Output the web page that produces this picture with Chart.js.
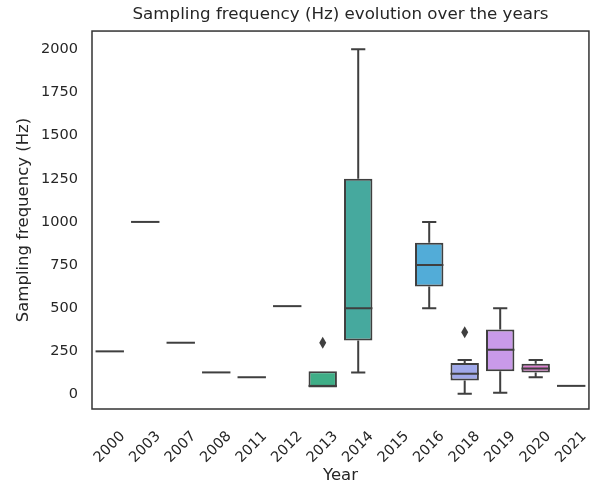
<!DOCTYPE html>
<html>
<head>
<meta charset="utf-8">
<script src="https://cdn.jsdelivr.net/npm/chart.js@4"></script>
<style>
  html, body { margin: 0; padding: 0; background: #fff; }
  #wrap { width: 603px; height: 487px; }
</style>
</head>
<body>
<div id="wrap"><canvas id="chart" width="603" height="487"></canvas></div>
<script>
const years = ['2000', '2003', '2007', '2008', '2011', '2012', '2013', '2014', '2015', '2016', '2018', '2019', '2020', '2021'];
const whiskerLow = [250, 1000, 300, 128, 100, 512, 40, 128, null, 500, 5, 10, 100, 50];
const q1 = [250, 1000, 300, 128, 100, 512, 40, 313, null, 626, 81, 135, 128, 50];
const medians = [250, 1000, 300, 128, 100, 512, 50, 500, null, 750, 120, 260, 150, 50];
const q3 = [250, 1000, 300, 128, 100, 512, 135, 1250, null, 879, 182, 377, 178, 50];
const whiskerHigh = [250, 1000, 300, 128, 100, 512, 135, 2000, null, 1000, 200, 500, 200, 50];
const outliers = [[], [], [], [], [], [], [300], [], [], [], [360], [], [], []];
const yTicks = [0, 250, 500, 750, 1000, 1250, 1500, 1750, 2000];

const boxColors = ['#e0737d', '#db7a5c', '#c78a3e', '#b3933d', '#a39a3d', '#8ea13d',
  '#3fae87', '#46a99e', '#48aab5', '#52acd8', '#a0a9ea', '#c99ae9', '#dd7fd0', '#e079a8'];
const lineColor = '#3f3f3f';
const textColor = '#262626';
const font = 'DejaVu Sans';

// whiskers, medians, caps and outliers on top of the floating bars
const boxPlugin = {
  id: 'boxParts',
  afterDatasetsDraw(chart) {
    const ctx = chart.ctx;
    const yScale = chart.scales.y;
    const bars = chart.getDatasetMeta(0).data;
    ctx.save();
    ctx.strokeStyle = lineColor;
    ctx.fillStyle = lineColor;
    ctx.lineWidth = 2;
    bars.forEach((bar, i) => {
      if (medians[i] == null) return;
      const half = bar.width / 2;
      const cap = bar.width / 4;
      const x = bar.x;
      const yMed = yScale.getPixelForValue(medians[i]);
      const yQ1 = yScale.getPixelForValue(q1[i]);
      const yQ3 = yScale.getPixelForValue(q3[i]);
      const yLo = yScale.getPixelForValue(whiskerLow[i]);
      const yHi = yScale.getPixelForValue(whiskerHigh[i]);
      ctx.beginPath();
      ctx.moveTo(x - half, yMed);
      ctx.lineTo(x + half, yMed);
      if (whiskerHigh[i] > q3[i]) {
        ctx.moveTo(x, yQ3);
        ctx.lineTo(x, yHi);
        ctx.moveTo(x - cap, yHi);
        ctx.lineTo(x + cap, yHi);
      }
      if (whiskerLow[i] < q1[i]) {
        ctx.moveTo(x, yQ1);
        ctx.lineTo(x, yLo);
        ctx.moveTo(x - cap, yLo);
        ctx.lineTo(x + cap, yLo);
      }
      ctx.stroke();
      outliers[i].forEach(v => {
        const yo = yScale.getPixelForValue(v);
        ctx.beginPath();
        ctx.moveTo(x, yo - 6);
        ctx.lineTo(x + 3.5, yo);
        ctx.lineTo(x, yo + 6);
        ctx.lineTo(x - 3.5, yo);
        ctx.closePath();
        ctx.fill();
      });
    });
    // axes frame
    const a = chart.chartArea;
    ctx.strokeStyle = '#333';
    ctx.lineWidth = 1.5;
    ctx.strokeRect(a.left, a.top, a.right - a.left, a.bottom - a.top);
    ctx.restore();
  }
};

new Chart(document.getElementById('chart'), {
  type: 'bar',
  data: {
    labels: years,
    datasets: [{
      data: years.map((_, i) => q1[i] == null ? null : [q1[i], q3[i]]),
      backgroundColor: boxColors,
      borderColor: lineColor,
      borderWidth: 2,
      borderSkipped: false,
      categoryPercentage: 0.8,
      barPercentage: 1.0
    }]
  },
  options: {
    responsive: false,
    animation: false,
    events: [],
    layout: { padding: { left: 0, right: 3, top: 0, bottom: 0 } },
    plugins: {
      legend: { display: false },
      tooltip: { enabled: false },
      title: {
        display: true,
        fullSize: false,
        text: 'Sampling frequency (Hz) evolution over the years',
        color: textColor,
        font: { family: font, size: 16.7, weight: 'normal' },
        padding: { top: 5, bottom: 6 }
      }
    },
    scales: {
      x: {
        grid: { display: false, drawTicks: false },
        border: { display: false },
        ticks: {
          color: textColor,
          font: { family: font, size: 14.5 },
          minRotation: 45,
          maxRotation: 45,
          autoSkip: false,
          labelOffset: 13,
          padding: 19
        },
        title: {
          display: true,
          text: 'Year',
          color: textColor,
          font: { family: font, size: 16.5 },
          padding: { top: 0, bottom: 1 }
        },
        afterFit(scale) { scale.height = 78; }
      },
      y: {
        min: -84,
        max: 2106,
        grid: { display: false, drawTicks: false },
        border: { display: false },
        afterBuildTicks(scale) { scale.ticks = yTicks.map(v => ({ value: v })); },
        ticks: {
          color: textColor,
          font: { family: font, size: 14.5 },
          padding: 14,
          callback: v => String(v)
        },
        title: {
          display: true,
          text: 'Sampling frequency (Hz)',
          color: textColor,
          font: { family: font, size: 16.5 },
          padding: { top: 14, bottom: 0 }
        },
        afterFit(scale) { scale.width = 92; }
      }
    }
  },
  plugins: [boxPlugin]
});
</script>
</body>
</html>
